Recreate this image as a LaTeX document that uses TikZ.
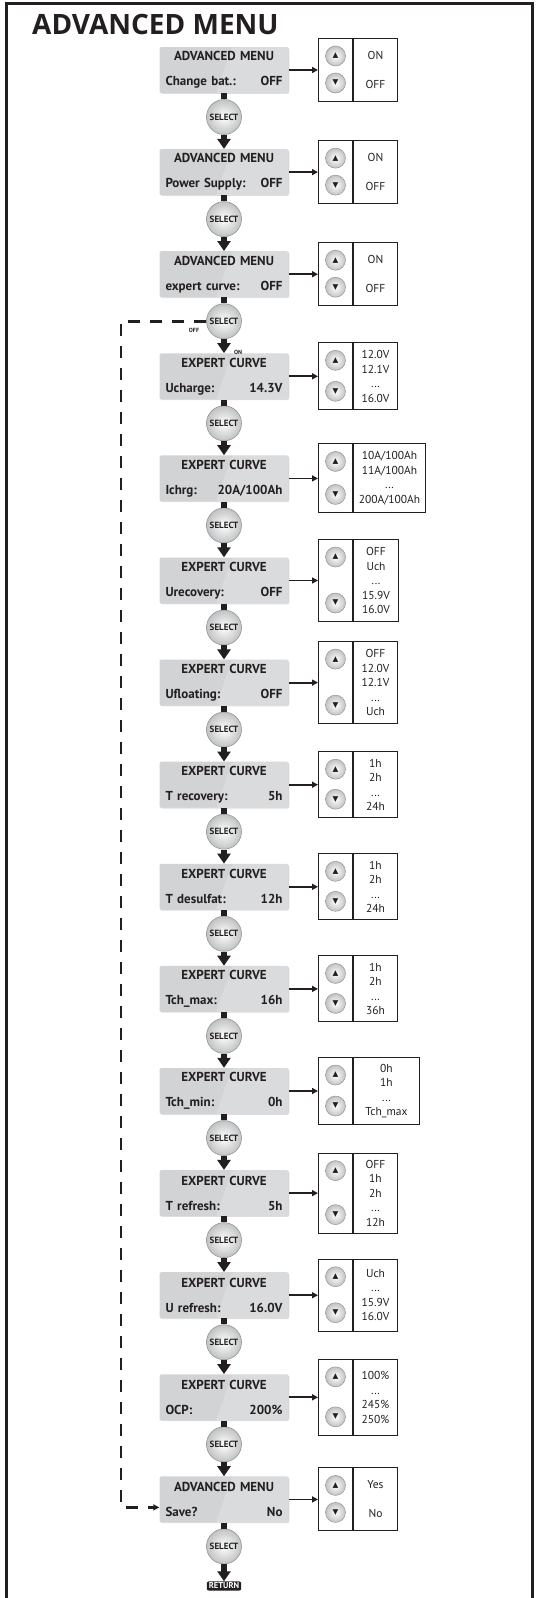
\documentclass[tikz,border=0pt]{standalone}
\usepackage{fontspec}
\setmainfont{PT Sans}
\newfontfamily\headfont{Open Sans}
\newfontfamily\symfont{DejaVu Sans}
\usetikzlibrary{arrows.meta,positioning,calc,shadows}
\definecolor{ink}{HTML}{231F20}
\definecolor{panel}{HTML}{D1D3D4}
\definecolor{rim}{HTML}{939598}

\begin{document}
\begin{tikzpicture}[x=1pt,y=-1pt,
  menubox/.style={fill=panel,rounded corners=2pt,minimum width=129pt,minimum height=46pt,
    text width=117pt,align=left,inner sep=0pt,text=ink,font=\bfseries\fontsize{13}{14.4}\selectfont,
    drop shadow={shadow xshift=0.8pt,shadow yshift=-0.8pt,opacity=.25},
    path picture={\fill[white,opacity=.2] ($(path picture bounding box.north)+(8,0)$)
      -- (path picture bounding box.north east) -- (path picture bounding box.south east)
      -- ($(path picture bounding box.south)+(-8,0)$) -- cycle;}},
  selbtn/.style={circle,draw=rim,line width=0.6pt,inner sep=0pt,minimum size=35pt,
    inner color=white,outer color=panel!80!gray,text=ink,font=\bfseries\fontsize{9}{9}\selectfont},
  keybtn/.style={circle,draw=rim,line width=0.5pt,inner sep=0pt,minimum size=20pt,
    inner color=white,outer color=panel!80!gray,text=ink,font=\symfont\fontsize{7.5}{7.5}\selectfont},
  keycol/.style={draw=ink,line width=1pt,minimum width=34pt,anchor=east,inner sep=0pt},
  valcol/.style={draw=ink,line width=1pt,anchor=west,align=center,inner xsep=3pt,inner ysep=6pt,
    text=ink,font=\fontsize{11.5}{14.5}\selectfont},
  tag/.style={text=ink,inner sep=0pt,font=\bfseries\fontsize{6}{6}\selectfont},
  stem/.style={ink,line width=6pt},
  bigarrow/.style={ink,line width=6pt,-{Triangle[width=13pt,length=10pt]}},
  pick/.style={ink,line width=1.8pt,-{Triangle[width=6pt,length=6pt]}},
  skip/.style={ink,line width=2.7pt,dash pattern=on 12pt off 10pt,-{Triangle[width=6pt,length=6pt]}}
]
  \useasboundingbox (0,0) rectangle (536,1598);
  \draw[ink,line width=3pt] (6,1610) -- (6,3) -- (532,3) -- (532,1610);
  \node[anchor=west,inner sep=0pt,text=ink,font=\headfont\bfseries\fontsize{28}{30}\selectfont]
    (head) at (32,24) {ADVANCED MENU};

  \foreach \k/\ttl/\lab/\val/\opts/\h/\w in {
    1/ADVANCED MENU/Change bat.:/OFF/{ON\\[14.5pt]OFF}/63/44,
    2/ADVANCED MENU/Power Supply:/OFF/{ON\\[14.5pt]OFF}/63/44,
    3/ADVANCED MENU/expert curve:/OFF/{ON\\[14.5pt]OFF}/63/44,
    4/EXPERT CURVE/Ucharge:/14.3V/{12.0V\\12.1V\\...\\16.0V}/67/44,
    5/EXPERT CURVE/Ichrg:/{20A/100Ah}/{10A/100Ah\\11A/100Ah\\...\\200A/100Ah}/69/72,
    6/EXPERT CURVE/Urecovery:/OFF/{OFF\\Uch\\...\\15.9V\\16.0V}/82/45,
    7/EXPERT CURVE/Ufloating:/OFF/{OFF\\12.0V\\12.1V\\...\\Uch}/82/44,
    8/EXPERT CURVE/T recovery:/5h/{1h\\2h\\...\\24h}/66/44,
    9/EXPERT CURVE/T desulfat:/12h/{1h\\2h\\...\\24h}/66/44,
    10/EXPERT CURVE/Tch\_max:/16h/{1h\\2h\\...\\36h}/66/44,
    11/EXPERT CURVE/Tch\_min:/0h/{0h\\1h\\...\\Tch\_max}/67/66,
    12/EXPERT CURVE/T refresh:/5h/{OFF\\1h\\2h\\...\\12h}/80/44,
    13/EXPERT CURVE/U refresh:/16.0V/{Uch\\...\\15.9V\\16.0V}/72/44,
    14/EXPERT CURVE/OCP:/200\%/{100\%\\...\\245\%\\250\%}/76/44,
    15/ADVANCED MENU/Save?/No/{Yes\\[14.5pt]No}/63/44} {
    \pgfmathsetmacro\yy{70+102.1*(\k-1)}
    \node[menubox] (m\k) at (224,\yy) {\makebox[\linewidth]{\ttl}\\[10.6pt]\lab\hfill\val};
    \node[selbtn] (s\k) at (224,\yy+47) {SELECT};
    \node[valcol,minimum height=\h pt,minimum width=\w pt] (v\k) at (353,\yy) {\opts};
    \node[keycol,minimum height=\h pt] (c\k) at (v\k.west) {};
    \node[keybtn] (u\k) at ($(c\k.north)+(0,18)$) {▲};
    \node[keybtn] (d\k) at ($(c\k.south)+(0,-19)$) {▼};
    \draw[stem] (m\k) -- (s\k);
    \draw[pick] (m\k) -- (c\k);
  }

  \foreach \k [count=\nxt from 2] in {1,...,14}
    \draw[bigarrow] (s\k) -- (m\nxt);

  \node[fill=ink,text=white,rounded corners=2pt,inner xsep=2pt,inner ysep=1.5pt,
    font=\bfseries\fontsize{8.5}{8.5}\selectfont] (ret) at (224,1586) {RETURN};
  \draw[bigarrow] (s15) -- (ret);

  \coordinate (lane) at (121,0);
  \draw[skip] (s3.west) -- (s3.west -| lane) |- ([yshift=-8pt]m15.west);
  \node[tag] (offtag) at (194,330) {OFF};
  \node[tag] (ontag) at (238,352) {ON};
\end{tikzpicture}
\end{document}
